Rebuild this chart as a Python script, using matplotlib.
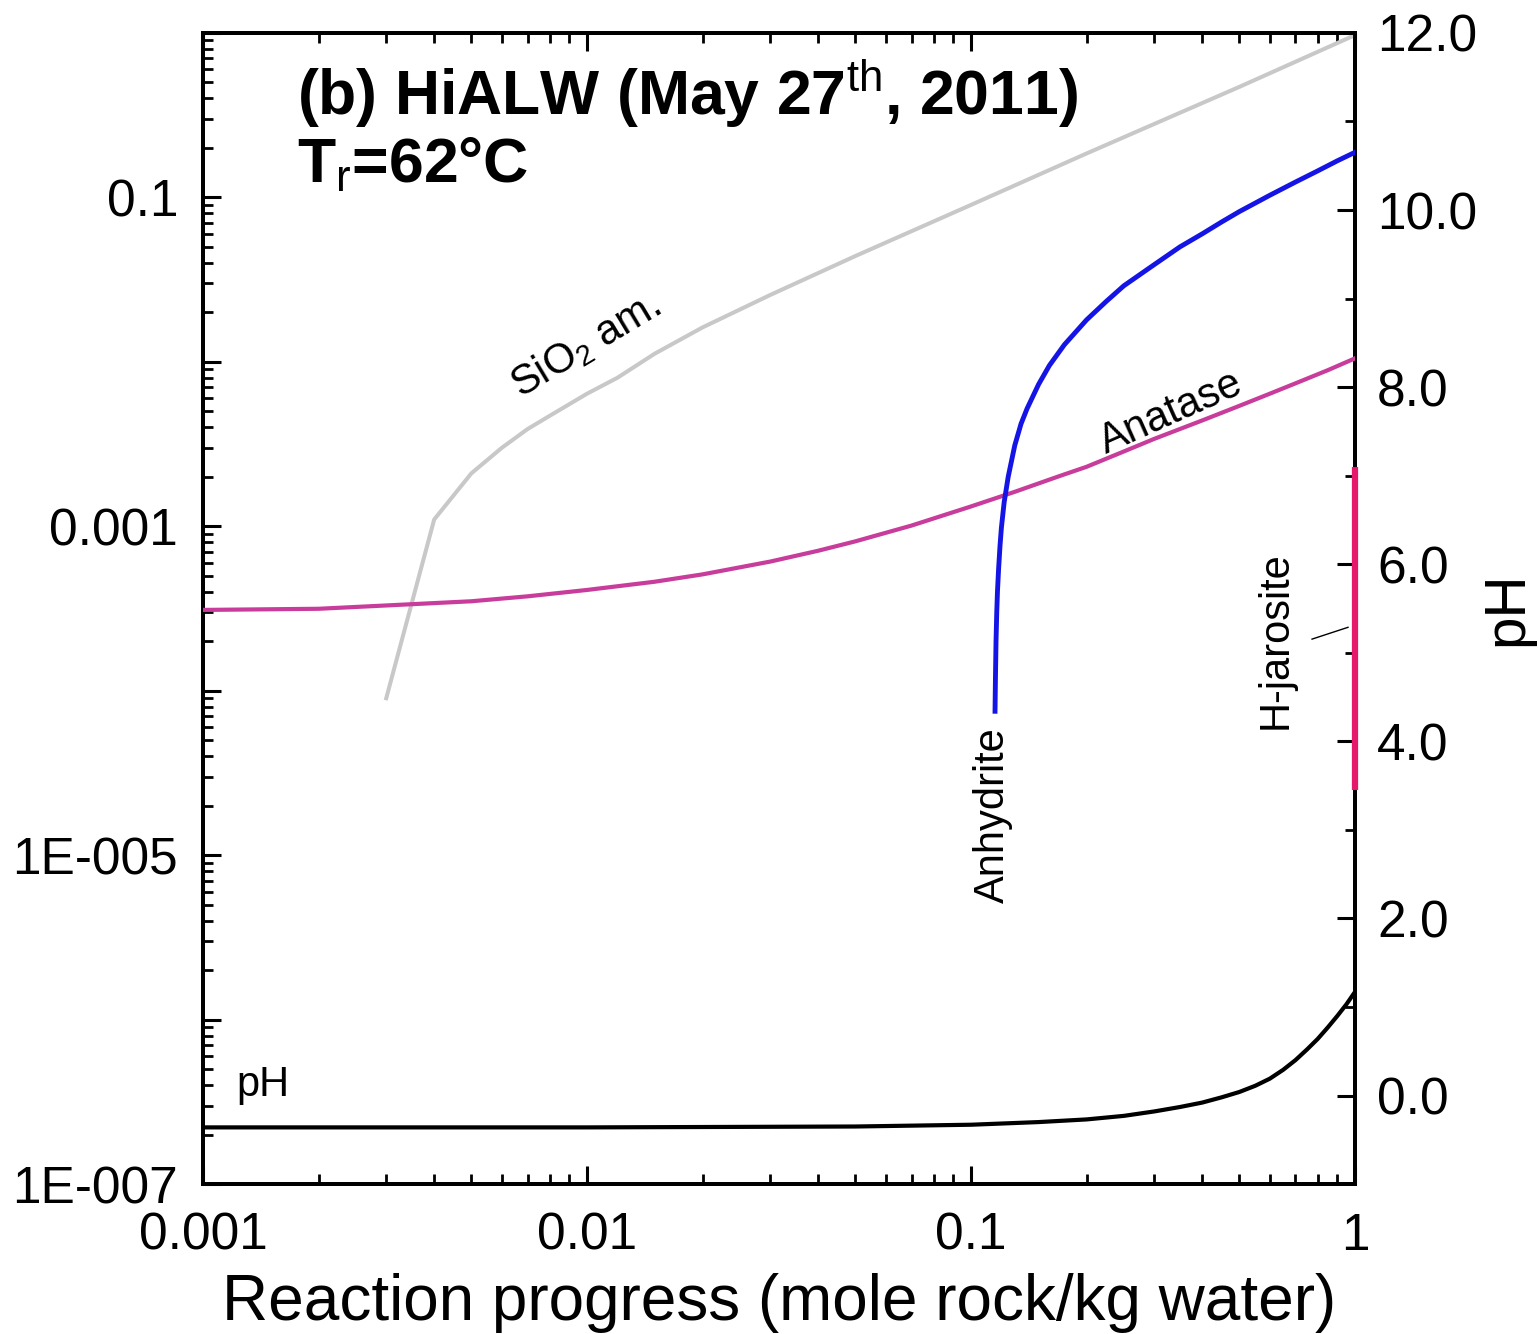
import matplotlib
matplotlib.use("Agg")
import matplotlib.pyplot as plt
import matplotlib.ticker as mticker
import numpy as np

plt.rcParams['font.family'] = ['Liberation Sans', 'DejaVu Sans']
plt.rcParams['mathtext.fontset'] = 'custom'
plt.rcParams['mathtext.rm'] = 'Liberation Sans'
plt.rcParams['mathtext.it'] = 'Liberation Sans:italic'
plt.rcParams['mathtext.bf'] = 'Liberation Sans:bold'

# reaction progress (mole rock / kg water) and mineral amounts (mole)
sio2_x = [0.003, 0.004, 0.005, 0.006, 0.007, 0.008, 0.01, 0.012, 0.015, 0.02, 0.03, 0.05,
          0.1, 0.2, 0.5, 1.0]
sio2_y = [9.0e-5, 1.1e-3, 2.1e-3, 3.0e-3, 3.9e-3, 4.7e-3, 6.4e-3, 8.0e-3, 0.0112, 0.0162,
          0.0255, 0.044, 0.09, 0.185, 0.47, 0.97]

anatase_x = [0.001, 0.002, 0.003, 0.005, 0.007, 0.01, 0.015, 0.02, 0.03, 0.04, 0.05, 0.07,
             0.1, 0.13, 0.17, 0.2, 0.25, 0.3, 0.4, 0.5, 0.6, 0.7, 0.85, 1.0]
anatase_y = [3.1e-4, 3.15e-4, 3.3e-4, 3.5e-4, 3.75e-4, 4.1e-4, 4.6e-4, 5.1e-4, 6.1e-4, 7.1e-4,
             8.1e-4, 1.01e-3, 1.32e-3, 1.62e-3, 2.02e-3, 2.3e-3, 2.85e-3, 3.4e-3, 4.4e-3,
             5.4e-3, 6.4e-3, 7.4e-3, 8.9e-3, 0.0105]

anhydrite_x = [0.1155, 0.1158, 0.1162, 0.1167, 0.1172, 0.118, 0.119, 0.12, 0.122, 0.125,
               0.13, 0.135, 0.14, 0.15, 0.16, 0.175, 0.2, 0.225, 0.25, 0.3, 0.35, 0.4,
               0.45, 0.5, 0.6, 0.7, 0.8, 0.9, 1.0]
anhydrite_y = [7.5e-5, 1.2e-4, 2.0e-4, 3.0e-4, 4.0e-4, 5.5e-4, 7.6e-4, 9.8e-4, 1.4e-3, 2.0e-3,
               3.1e-3, 4.2e-3, 5.2e-3, 7.3e-3, 9.5e-3, 0.0127, 0.018, 0.0233, 0.029, 0.039,
               0.050, 0.060, 0.071, 0.082, 0.103, 0.124, 0.145, 0.167, 0.188]

jarosite_x = [1.0, 1.0]
jarosite_y = [2.5e-5, 2.3e-3]

ph_x = [0.001, 0.01, 0.05, 0.1, 0.15, 0.2, 0.25, 0.3, 0.35, 0.4, 0.45, 0.5, 0.55, 0.6, 0.65,
        0.7, 0.75, 0.8, 0.85, 0.9, 0.95, 1.0]
ph_y = [-0.36, -0.36, -0.35, -0.33, -0.30, -0.27, -0.23, -0.18, -0.13, -0.08, -0.02, 0.04,
        0.11, 0.19, 0.29, 0.40, 0.52, 0.64, 0.77, 0.90, 1.03, 1.17]

left_ticks = [1e-7, 1e-6, 1e-5, 1e-4, 1e-3, 1e-2, 1e-1, 1.0]
left_labels = ["1E-007", "", "1E-005", "", "0.001", "", "0.1", ""]
x_ticks = [0.001, 0.01, 0.1, 1.0]
x_labels = ["0.001", "0.01", "0.1", "1"]
ph_ticks = [0, 2, 4, 6, 8, 10, 12]
ph_labels = ["0.0", "2.0", "4.0", "6.0", "8.0", "10.0", "12.0"]


def style_ticks(ax):
    ax.tick_params(which='major', direction='in', length=13, width=2.2, labelsize=37)
    ax.tick_params(which='minor', direction='in', length=7, width=2.0)


def main():
    fig = plt.figure(figsize=(15.38, 13.34), dpi=100)
    ax = fig.add_axes([0.132, 0.1124, 0.749, 0.8629])
    ax2 = ax.twinx()
    # mineral curves go above the pH axis so H-jarosite shows over the spine
    ax.set_zorder(ax2.get_zorder() + 1)
    ax.patch.set_visible(False)

    ax.set_xscale('log')
    ax.set_yscale('log')
    ax.set_xlim(0.001, 1.0)
    ax.set_ylim(1e-7, 1.0)

    ax.plot(sio2_x, sio2_y, color='#c8c8c8', lw=2.9, zorder=2)
    ax.plot(anatase_x, anatase_y, color='#c83c9b', lw=3.0, zorder=3)
    ax.plot(anhydrite_x, anhydrite_y, color='#1414e6', lw=3.5, zorder=4)
    ax.plot(jarosite_x, jarosite_y, color='#e6186b', lw=4.5, zorder=6, clip_on=False,
            solid_capstyle='butt')
    ax.plot([0.773, 0.959], [2.06e-4, 2.43e-4], color='black', lw=1.0)

    ax2.set_ylim(-1.0, 12.0)
    ax2.plot(ph_x, ph_y, color='black', lw=3.0)

    # ticks
    ax.set_yticks(left_ticks)
    ax.set_yticklabels(left_labels)
    ax.yaxis.set_minor_locator(mticker.LogLocator(base=10, subs=np.arange(2, 10), numticks=20))
    ax.yaxis.set_minor_formatter(mticker.NullFormatter())
    ax.set_xticks(x_ticks)
    ax.set_xticklabels(x_labels)
    ax.xaxis.set_minor_locator(mticker.LogLocator(base=10, subs=np.arange(2, 10), numticks=20))
    ax.xaxis.set_minor_formatter(mticker.NullFormatter())
    ax.tick_params(axis='x', which='both', top=True, bottom=True)
    ax.tick_params(axis='y', which='both', left=True, right=False)
    style_ticks(ax)
    ax.tick_params(axis='x', which='major', pad=20)
    ax.tick_params(axis='y', which='major', pad=18)

    ax2.set_yticks(ph_ticks)
    ax2.set_yticklabels(ph_labels)
    ax2.yaxis.set_minor_locator(mticker.MultipleLocator(1.0))
    style_ticks(ax2)
    ax2.tick_params(axis='y', which='major', pad=16)

    for a in (ax, ax2):
        for sp in a.spines.values():
            sp.set_linewidth(2.8)

    ax.set_xlabel("Reaction progress (mole rock/kg water)", fontsize=46, labelpad=9)
    ax2.set_ylabel("pH", fontsize=42, labelpad=2)

    # panel title
    ax.text(0.082, 0.929, r"(b) HiALW (May 27$^{\mathrm{th}}$, 2011)", transform=ax.transAxes,
            fontsize=45, fontweight='bold', ha='left', va='baseline')
    ax.text(0.082, 0.870, r"T$_{\mathrm{r}}$=62°C", transform=ax.transAxes,
            fontsize=45, fontweight='bold', ha='left', va='baseline')

    # curve labels
    ax.text(0.0099, 0.0126, r"SiO$_2$ am.", fontsize=30, rotation=31,
            ha='center', va='center', rotation_mode='anchor')
    ax.text(0.333, 4.9e-3, "Anatase", fontsize=30, rotation=24,
            ha='center', va='center', rotation_mode='anchor')
    ax.text(0.114, 1.75e-5, "Anhydrite", fontsize=30, rotation=90,
            ha='center', va='center')
    ax.text(0.62, 2.03e-4, "H-jarosite", fontsize=30, rotation=90,
            ha='center', va='center')
    ax.text(0.00143, 4.0e-7, "pH", fontsize=30, ha='center', va='center')

    fig.savefig("out.png", dpi=100)


if __name__ == "__main__":
    main()
